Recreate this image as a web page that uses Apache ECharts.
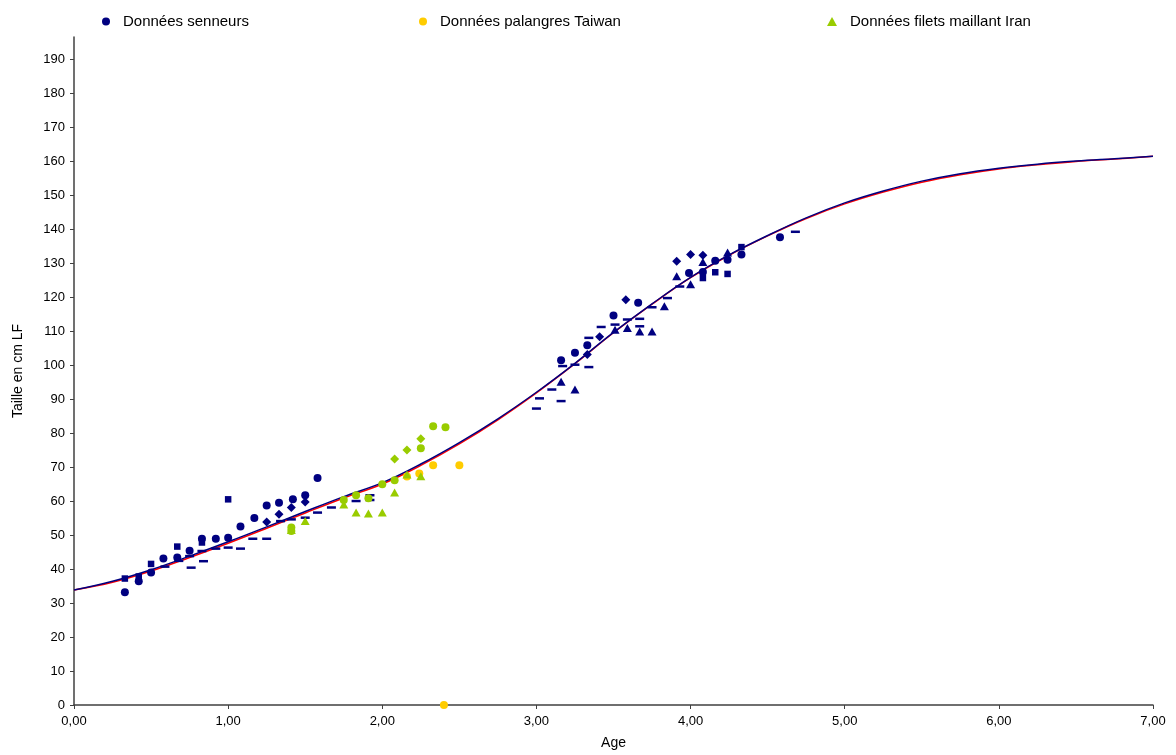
<!DOCTYPE html>
<html>
<head>
<meta charset="utf-8">
<script src="https://cdn.jsdelivr.net/npm/echarts@6/dist/echarts.min.js"></script>
<style>
  html, body { margin: 0; padding: 0; background: #fff; }
  #chart { width: 1176px; height: 755px; }
</style>
</head>
<body>
<div id="chart"></div>
<script>
// Croissance en taille (cm LF) selon l'âge (années)

// Données senneurs, par type de symbole [âge, taille]
const senneursRonds = [
  [0.33, 33.2], [0.42, 36.4], [0.50, 39.0], [0.58, 43.1], [0.67, 43.4], [0.75, 45.4],
  [0.83, 48.9], [0.92, 48.9], [1.00, 49.2], [1.08, 52.5], [1.17, 55.0], [1.25, 58.7],
  [1.33, 59.5], [1.42, 60.5], [1.50, 61.7], [1.58, 66.8],
  [3.16, 101.4], [3.25, 103.6], [3.33, 105.8], [3.50, 114.6], [3.66, 118.3],
  [3.99, 127.1], [4.08, 127.4], [4.16, 130.7], [4.24, 131.0], [4.33, 132.5], [4.58, 137.6]
];
const senneursCarres = [
  [0.33, 37.2], [0.42, 37.8], [0.50, 41.5], [0.67, 46.6], [0.83, 47.8], [1.00, 60.5],
  [4.08, 125.6], [4.16, 127.3], [4.24, 126.8], [4.33, 134.7]
];
const senneursLosanges = [
  [1.25, 53.8], [1.33, 56.1], [1.41, 58.1], [1.50, 59.7],
  [3.33, 103.1], [3.41, 108.3], [3.58, 119.2], [3.91, 130.5], [4.00, 132.5], [4.08, 132.3]
];
const senneursTriangles = [
  [3.16, 95.1], [3.25, 92.8], [3.51, 110.4], [3.59, 110.9], [3.67, 109.9], [3.75, 109.9],
  [3.83, 117.3], [3.91, 126.1], [4.00, 123.8], [4.08, 130.3], [4.24, 133.1]
];
const senneursTirets = [
  [0.59, 40.7], [0.68, 42.4], [0.75, 43.8], [0.76, 40.4], [0.83, 45.3], [0.84, 42.3],
  [0.92, 46.0], [1.00, 46.3], [1.08, 46.0], [1.16, 48.9], [1.25, 48.9], [1.34, 54.1],
  [1.41, 54.6], [1.50, 55.1], [1.58, 56.6], [1.67, 58.1], [1.83, 60.0], [1.92, 61.7],
  [1.92, 60.3],
  [3.00, 87.2], [3.02, 90.2], [3.10, 92.8], [3.16, 89.4], [3.17, 99.7], [3.25, 100.1],
  [3.34, 99.4], [3.34, 108.0], [3.42, 111.2], [3.51, 111.9], [3.59, 113.4], [3.67, 113.6],
  [3.67, 111.4], [3.75, 117.0], [3.85, 119.7], [3.93, 123.1], [4.68, 139.2]
];

// Données palangres Taiwan
const taiwan = [[2.16, 67.2], [2.24, 68.1], [2.33, 70.5], [2.50, 70.5], [2.40, 0]];

// Données filets maillant Iran
const iranTriangles = [
  [1.41, 51.5], [1.50, 54.1], [1.75, 59.0], [1.83, 56.6], [1.91, 56.3], [2.00, 56.6],
  [2.08, 62.5], [2.16, 67.8], [2.25, 67.3]
];
const iranRonds = [
  [1.41, 52.2], [1.41, 51.2], [1.75, 60.3], [1.83, 61.7], [1.91, 60.8], [2.00, 64.9],
  [2.08, 66.1], [2.25, 75.5], [2.33, 82.0], [2.41, 81.7]
];
const iranLosanges = [[2.08, 72.4], [2.16, 75.0], [2.25, 78.3]];

// Courbes de croissance
const courbeAges = [0, 0.25, 0.5, 0.75, 1, 1.25, 1.5, 1.75, 2, 2.25, 2.5, 2.75, 3, 3.25, 3.5,
  3.75, 4, 4.25, 4.5, 4.75, 5, 5.25, 5.5, 5.75, 6, 6.25, 6.5, 6.75, 7];
const courbeBleue = [33.8, 36.4, 39.8, 43.8, 48.0, 52.4, 56.9, 61.3, 65.4, 70.9, 77.2, 84.2,
  92.0, 100.5, 109.6, 118.0, 125.8, 132.4, 138.1, 143.3, 147.7, 151.2, 154.1, 156.3,
  157.9, 159.1, 160.0, 160.7, 161.4];
const courbeRouge = [33.8, 36.1, 39.4, 43.4, 47.6, 52.0, 56.5, 60.9, 65.0, 70.5, 76.8, 83.9,
  91.8, 100.4, 109.5, 117.9, 125.7, 132.3, 138.0, 143.1, 147.4, 150.9, 153.8, 156.0,
  157.7, 158.9, 159.9, 160.6, 161.4];

const graduationsTaille = [0, 10, 20, 30, 40, 50, 60, 70, 80, 90, 100, 110, 120, 130, 140,
  150, 160, 170, 180, 190];

const NAVY = '#000080';
const JAUNE = '#FFCC00';
const VERT = '#99CC00';
const ROUGE = '#FF0000';
const FONT = '"Liberation Sans", Arial, sans-serif';

const paires = (xs, ys) => xs.map((x, i) => [x, ys[i]]);

function nuage(name, data, symbol, size, color) {
  return {
    type: 'scatter', name, data, symbol, symbolSize: size,
    itemStyle: { color, opacity: 1 },
    emphasis: { disabled: true },
    z: 3
  };
}

const legendeCommune = {
  top: 9,
  itemWidth: 8,
  itemHeight: 8,
  textStyle: { fontFamily: FONT, fontSize: 15, color: '#000', padding: [0, 0, 0, 8] },
  selectedMode: false
};

const chart = echarts.init(document.getElementById('chart'), null, { renderer: 'canvas' });
chart.setOption({
  backgroundColor: '#fff',
  animation: false,
  grid: { left: 74, right: 23, top: 37, bottom: 49 },
  legend: [
    Object.assign({}, legendeCommune, { left: 97, data: [{ name: 'Données senneurs', icon: 'circle', itemStyle: { color: NAVY } }] }),
    Object.assign({}, legendeCommune, { left: 414, data: [{ name: 'Données palangres Taiwan', icon: 'circle', itemStyle: { color: JAUNE } }] }),
    Object.assign({}, legendeCommune, { left: 822, itemWidth: 10, itemHeight: 9, data: [{ name: 'Données filets maillant Iran', icon: 'triangle', itemStyle: { color: VERT } }] })
  ],
  xAxis: {
    type: 'value', min: 0, max: 7, interval: 1,
    name: 'Age', nameLocation: 'middle', nameGap: 31,
    nameTextStyle: { fontFamily: FONT, fontSize: 14, color: '#000' },
    axisLine: { lineStyle: { color: '#404040', width: 1.5 } },
    axisTick: { show: true, inside: false, length: 4, lineStyle: { color: '#404040' } },
    axisLabel: {
      fontFamily: FONT, fontSize: 13, color: '#000', margin: 10,
      formatter: v => v.toFixed(2).replace('.', ',')
    },
    splitLine: { show: false }
  },
  yAxis: {
    type: 'value', min: 0, max: 196.5, interval: 10,
    name: 'Taille en cm LF', nameLocation: 'middle', nameGap: 49, nameRotate: 90,
    nameTextStyle: { fontFamily: FONT, fontSize: 14, color: '#000' },
    axisLine: { show: true, lineStyle: { color: '#404040', width: 1.5 } },
    axisTick: { show: true, inside: false, length: 4, lineStyle: { color: '#404040' }, customValues: graduationsTaille },
    axisLabel: { fontFamily: FONT, fontSize: 13, color: '#000', margin: 9, customValues: graduationsTaille },
    splitLine: { show: false }
  },
  series: [
    {
      type: 'line', name: 'Courbe 1', data: paires(courbeAges, courbeRouge),
      smooth: 0.4, symbol: 'none', lineStyle: { color: ROUGE, width: 1.5 }, z: 1,
      emphasis: { disabled: true }
    },
    {
      type: 'line', name: 'Courbe 2', data: paires(courbeAges, courbeBleue),
      smooth: 0.4, symbol: 'none', lineStyle: { color: NAVY, width: 1.5 }, z: 1,
      emphasis: { disabled: true }
    },
    nuage('Données senneurs', senneursRonds, 'circle', 8, NAVY),
    nuage('Données senneurs', senneursCarres, 'rect', 6.5, NAVY),
    nuage('Données senneurs', senneursLosanges, 'diamond', 9, NAVY),
    nuage('Données senneurs', senneursTriangles, 'triangle', [9, 8], NAVY),
    nuage('Données senneurs', senneursTirets, 'rect', [9, 2.5], NAVY),
    nuage('Données palangres Taiwan', taiwan, 'circle', 8, JAUNE),
    nuage('Données filets maillant Iran', iranRonds, 'circle', 8, VERT),
    nuage('Données filets maillant Iran', iranLosanges, 'diamond', 9, VERT),
    nuage('Données filets maillant Iran', iranTriangles, 'triangle', [9, 8], VERT)
  ]
});
</script>
</body>
</html>
